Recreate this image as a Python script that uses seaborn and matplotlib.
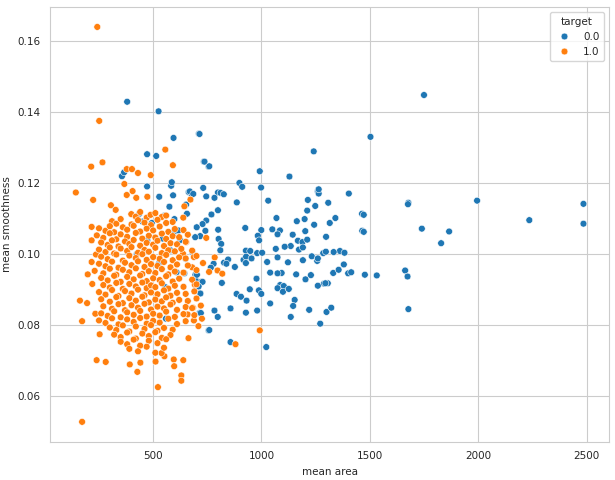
import matplotlib
matplotlib.use("Agg")
import matplotlib.pyplot as plt
import pandas as pd
import seaborn as sns

# target 0.0 (malignant) points
benign0_area = [
    380, 525, 594, 711, 472, 514, 734, 756, 356, 366, 472, 528, 583, 586, 592, 575, 553, 436,
    598, 598, 625, 544, 425, 527, 608, 644, 695, 700, 716, 559, 756, 714, 650, 681, 656, 652,
    664, 677, 451, 473, 494, 617, 722, 700, 556, 580,
    714, 737, 759, 992, 1241, 1503, 1129, 898, 911, 998, 731, 669, 685, 745, 799, 811, 826, 783,
    886, 1031, 1262, 1260, 1403, 1214, 1308, 1248, 1211, 1464, 1678, 1740, 799, 769, 745, 728,
    701, 741, 800, 925, 999, 1069, 1050, 1085, 1074, 1163, 1199, 1202, 1243, 1315, 1341, 1465,
    1298, 1144, 1168, 1189, 1211, 1135, 1107, 1066, 1173, 1191, 983, 989, 717, 694, 802, 814,
    810, 928, 948, 917, 929, 928, 954, 980, 1003, 1026, 1074, 1122, 1191, 1232, 1257, 1260,
    1285, 1297, 1362, 1383, 1380, 1400, 1414, 1331, 1306, 1288, 1295, 1260, 1228, 1203, 1160,
    1093, 1074, 1040, 977, 827, 846, 877, 838, 779, 766, 702, 728, 710, 718, 817, 885, 905,
    931, 946, 988, 999, 1086, 1103, 1074, 1099, 1126, 1040, 1153, 1146, 1220, 1300, 1322,
    1135, 1271, 1678, 1663, 1674, 1477, 1532, 928, 980, 783, 798, 857, 759, 857, 1022, 720,
    1750, 1995, 2236, 2486, 2486, 1829, 1866, 1676, 1472, 1472, 1356, 1333, 1264, 1264,
]
benign0_smooth = [
    0.1429, 0.1402, 0.1327, 0.1339, 0.1281, 0.1276, 0.1260, 0.1246, 0.1219, 0.1230, 0.1190,
    0.1161, 0.1192, 0.1202, 0.1165, 0.1133, 0.1108, 0.1113, 0.1098, 0.1063, 0.1039, 0.1043,
    0.1000, 0.0973, 0.0948, 0.0945, 0.0941, 0.0923, 0.0889, 0.0817, 0.0784, 0.0833, 0.0986,
    0.1005, 0.1113, 0.1139, 0.1174, 0.1169, 0.1091, 0.1038, 0.1087, 0.1066, 0.0921, 0.0906,
    0.0906, 0.1010,
    0.1338, 0.1260, 0.1247, 0.1233, 0.1289, 0.1330, 0.1218, 0.1200, 0.1189, 0.1187, 0.1186,
    0.1176, 0.1169, 0.1162, 0.1173, 0.1172, 0.1168, 0.1158, 0.1145, 0.1150, 0.1181, 0.1176,
    0.1170, 0.1152, 0.1144, 0.1135, 0.1122, 0.1113, 0.1144, 0.1071, 0.1123, 0.1111, 0.1094,
    0.1084, 0.1075, 0.1065, 0.1068, 0.1073, 0.1067, 0.1101, 0.1069, 0.1066, 0.1055, 0.1092,
    0.1098, 0.1064, 0.1082, 0.1087, 0.1101, 0.1065, 0.1048, 0.1054, 0.1037, 0.1033, 0.1040,
    0.1022, 0.1020, 0.1014, 0.1012, 0.1018, 0.1051, 0.1038, 0.1050, 0.1047, 0.1042, 0.1028,
    0.1010, 0.1009, 0.1008, 0.0983, 0.0992, 0.0974, 0.0987, 0.1002, 0.1003, 0.0977, 0.0990,
    0.0976, 0.0982, 0.0993, 0.0980, 0.0987, 0.1002, 0.1006, 0.1008, 0.1003, 0.0970, 0.0945,
    0.0948, 0.0946, 0.0917, 0.0916, 0.0917, 0.0910, 0.0940, 0.0928, 0.0942, 0.0946, 0.0945,
    0.0947, 0.0930, 0.0975, 0.0984, 0.0963, 0.0972, 0.0972, 0.0961, 0.0941, 0.0921, 0.0908,
    0.0888, 0.0918, 0.0887, 0.0879, 0.0868, 0.0900, 0.0897, 0.0887, 0.0912, 0.0909, 0.0903,
    0.0893, 0.0901, 0.0860, 0.0870, 0.0853, 0.0842, 0.0836, 0.0848, 0.0822, 0.0803, 0.0844,
    0.0953, 0.0936, 0.0941, 0.0939, 0.0834, 0.0840, 0.0840, 0.0822, 0.0846, 0.0785, 0.0751,
    0.0737, 0.0833,
    0.1448, 0.1150, 0.1095, 0.1141, 0.1085, 0.1030, 0.1063, 0.1140, 0.1110, 0.1062, 0.0955,
    0.1005, 0.1170, 0.1182,
]

# target 1.0 (benign) points: outliers first, then the dense core row by row
benign1_area = [
    242, 251, 143, 172, 214, 266, 223, 162, 195, 172, 239, 281, 253, 233, 219, 198, 216, 216,
    216, 236, 556, 591, 489, 430, 378, 402, 367, 405, 378, 422, 473, 305, 327, 672, 644, 639,
    745, 784, 797, 819, 758, 992, 880, 639, 595, 597, 630, 630, 427, 392, 441, 511, 522, 552,
    539, 663, 709, 725, 688, 684, 659, 692, 680, 688, 638, 653,
    399, 420, 440, 470, 488, 510, 540, 560,
    310, 330, 350, 400, 430, 460, 490, 520, 560, 590,
    250, 280, 300, 320, 360, 380, 410, 440, 470, 500, 530, 570, 600, 640,
    240, 270, 300, 330, 350, 380, 420, 450, 480, 510, 540, 560, 590, 620, 660,
    260, 290, 310, 340, 370, 390, 410, 440, 470, 500, 520, 550, 580, 610, 650,
    250, 280, 300, 320, 350, 380, 400, 430, 460, 480, 510, 540, 570, 600, 630, 680,
    260, 290, 330, 360, 390, 420, 450, 470, 500, 530, 560, 590, 620, 650, 700,
    250, 280, 310, 340, 370, 400, 430, 460, 490, 520, 550, 580, 610, 660, 730,
    230, 270, 300, 330, 360, 390, 420, 450, 480, 510, 540, 570, 600, 640, 700,
    260, 290, 320, 350, 380, 410, 440, 470, 500, 530, 560, 590, 620, 680,
    270, 300, 330, 360, 390, 420, 450, 470, 490, 510, 540, 570, 600, 640, 700,
    250, 280, 310, 340, 370, 400, 430, 460, 490, 520, 550, 580, 610, 650, 690,
    260, 300, 330, 360, 390, 420, 450, 480, 510, 540, 560, 590, 620, 660, 700,
    270, 310, 340, 370, 400, 430, 460, 490, 520, 550, 580, 610, 650, 680, 720,
    260, 290, 320, 350, 380, 410, 440, 470, 500, 530, 560, 600, 640, 690,
    250, 280, 310, 340, 380, 410, 440, 470, 500, 530, 570, 610, 650,
    300, 330, 360, 390, 420, 460, 490, 520, 550, 590,
    320, 350, 380, 420, 450, 480, 510, 540, 580,
    350, 380, 410, 440, 480, 520, 560,
    390, 430, 470, 510, 550,
]
benign1_smooth = [
    0.1640, 0.1375, 0.1173, 0.0526, 0.1246, 0.1258, 0.1152, 0.0868, 0.0861, 0.0810, 0.0700,
    0.0695, 0.0773, 0.0831, 0.0915, 0.0942, 0.0977, 0.1038, 0.1076, 0.0998, 0.1294, 0.1250,
    0.1222, 0.1228, 0.1239, 0.1239, 0.1197, 0.1177, 0.1166, 0.1158, 0.1161, 0.1137, 0.1124,
    0.1153, 0.1134, 0.1102, 0.1045, 0.0990, 0.0953, 0.0944, 0.0949, 0.0784, 0.0745, 0.0700,
    0.0702, 0.0683, 0.0657, 0.0642, 0.0667, 0.0688, 0.0693, 0.0696, 0.0624, 0.0711, 0.0720,
    0.0762, 0.0796, 0.0817, 0.0812, 0.0848, 0.0829, 0.0913, 0.0962, 0.0991, 0.1000, 0.1033,
    0.1112, 0.1105, 0.1118, 0.1102, 0.1110, 0.1115, 0.1104, 0.1108,
    0.1092, 0.1085, 0.1098, 0.1083, 0.1095, 0.1088, 0.1081, 0.1096, 0.1087, 0.1090,
    0.1072, 0.1065, 0.1078, 0.1061, 0.1075, 0.1068, 0.1079, 0.1063, 0.1071, 0.1066, 0.1077,
    0.1062, 0.1070, 0.1067,
    0.1052, 0.1045, 0.1058, 0.1041, 0.1055, 0.1048, 0.1059, 0.1043, 0.1051, 0.1046, 0.1057,
    0.1042, 0.1050, 0.1047, 0.1054,
    0.1032, 0.1025, 0.1038, 0.1021, 0.1035, 0.1028, 0.1039, 0.1023, 0.1031, 0.1026, 0.1037,
    0.1022, 0.1030, 0.1027, 0.1034,
    0.1012, 0.1005, 0.1018, 0.1001, 0.1015, 0.1008, 0.1019, 0.1003, 0.1011, 0.1006, 0.1017,
    0.1002, 0.1010, 0.1007, 0.1014, 0.1009,
    0.0992, 0.0985, 0.0998, 0.0981, 0.0995, 0.0988, 0.0999, 0.0983, 0.0991, 0.0986, 0.0997,
    0.0982, 0.0990, 0.0987, 0.0994,
    0.0972, 0.0965, 0.0978, 0.0961, 0.0975, 0.0968, 0.0979, 0.0963, 0.0971, 0.0966, 0.0977,
    0.0962, 0.0970, 0.0967, 0.0974,
    0.0952, 0.0945, 0.0958, 0.0941, 0.0955, 0.0948, 0.0959, 0.0943, 0.0951, 0.0946, 0.0957,
    0.0942, 0.0950, 0.0947, 0.0954,
    0.0932, 0.0925, 0.0938, 0.0921, 0.0935, 0.0928, 0.0939, 0.0923, 0.0931, 0.0926, 0.0937,
    0.0922, 0.0930, 0.0927,
    0.0912, 0.0905, 0.0918, 0.0901, 0.0915, 0.0908, 0.0919, 0.0903, 0.0911, 0.0906, 0.0917,
    0.0902, 0.0910, 0.0907, 0.0914,
    0.0892, 0.0885, 0.0898, 0.0881, 0.0895, 0.0888, 0.0899, 0.0883, 0.0891, 0.0886, 0.0897,
    0.0882, 0.0890, 0.0887, 0.0894,
    0.0872, 0.0865, 0.0878, 0.0861, 0.0875, 0.0868, 0.0879, 0.0863, 0.0871, 0.0866, 0.0877,
    0.0862, 0.0870, 0.0867, 0.0874,
    0.0852, 0.0845, 0.0858, 0.0841, 0.0855, 0.0848, 0.0859, 0.0843, 0.0851, 0.0846, 0.0857,
    0.0842, 0.0850, 0.0847, 0.0854,
    0.0832, 0.0825, 0.0838, 0.0821, 0.0835, 0.0828, 0.0839, 0.0823, 0.0831, 0.0826, 0.0837,
    0.0822, 0.0830, 0.0827,
    0.0812, 0.0805, 0.0818, 0.0801, 0.0815, 0.0808, 0.0819, 0.0803, 0.0811, 0.0806, 0.0817,
    0.0802, 0.0810,
    0.0792, 0.0785, 0.0798, 0.0781, 0.0795, 0.0788, 0.0799, 0.0783, 0.0791, 0.0786,
    0.0772, 0.0765, 0.0778, 0.0761, 0.0775, 0.0768, 0.0779, 0.0763, 0.0771,
    0.0752, 0.0745, 0.0758, 0.0741, 0.0755, 0.0748, 0.0759,
    0.0732, 0.0725, 0.0738, 0.0721, 0.0735,
]

df = pd.DataFrame({
    "mean area": benign0_area + benign1_area,
    "mean smoothness": benign0_smooth + benign1_smooth,
    "target": [0.0] * len(benign0_area) + [1.0] * len(benign1_area),
})

sns.set_style("whitegrid")
fig, ax = plt.subplots(figsize=(6.15, 4.8), dpi=100)
sns.scatterplot(data=df, x="mean area", y="mean smoothness", hue="target",
                palette=["#1f77b4", "#ff7f0e"], s=24, ax=ax)
ax.set_xticks([500, 1000, 1500, 2000, 2500])
ax.set_yticks([0.06, 0.08, 0.10, 0.12, 0.14, 0.16])
ax.tick_params(labelsize=7.5)
ax.xaxis.label.set_size(7.5)
ax.yaxis.label.set_size(7.5)
ax.legend(title="target", loc="upper right", fontsize=7.5, title_fontsize=7.5)
fig.subplots_adjust(left=0.082, right=0.99, top=0.985, bottom=0.08)
fig.savefig("out.png", dpi=100)
